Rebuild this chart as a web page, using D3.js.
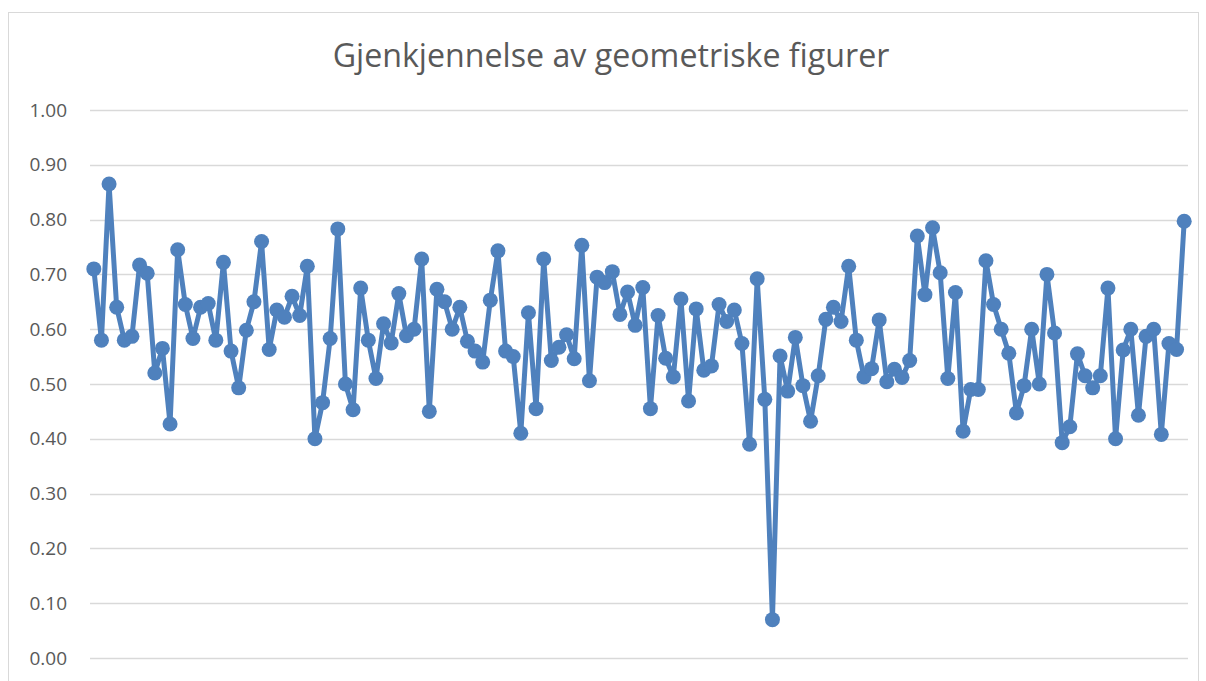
<!DOCTYPE html>
<html>
<head>
<meta charset="utf-8">
<title>Gjenkjennelse av geometriske figurer</title>
<script src="https://cdn.jsdelivr.net/npm/d3@7"></script>
<style>
  body { margin: 0; background: #fff; }
  svg { display: block; }
</style>
</head>
<body>
<div id="chart"></div>
<script>
// data
const title = "Gjenkjennelse av geometriske figurer";
const yTicks = [0, 0.1, 0.2, 0.3, 0.4, 0.5, 0.6, 0.7, 0.8, 0.9, 1.0];
const values = [
  0.710, 0.580, 0.865, 0.640, 0.580, 0.587, 0.717, 0.702, 0.520, 0.565,
  0.427, 0.745, 0.645, 0.583, 0.640, 0.647, 0.580, 0.722, 0.560, 0.493,
  0.598, 0.650, 0.760, 0.563, 0.635, 0.622, 0.660, 0.625, 0.715, 0.400,
  0.466, 0.583, 0.783, 0.500, 0.453, 0.675, 0.580, 0.510, 0.610, 0.575,
  0.665, 0.588, 0.600, 0.728, 0.450, 0.673, 0.650, 0.600, 0.640, 0.578,
  0.560, 0.540, 0.653, 0.743, 0.560, 0.550, 0.410, 0.630, 0.455, 0.728,
  0.543, 0.567, 0.590, 0.546, 0.753, 0.506, 0.695, 0.685, 0.705, 0.627,
  0.668, 0.607, 0.676, 0.455, 0.625, 0.547, 0.513, 0.655, 0.469, 0.637,
  0.525, 0.533, 0.645, 0.614, 0.635, 0.574, 0.390, 0.692, 0.472, 0.070,
  0.551, 0.487, 0.585, 0.497, 0.432, 0.515, 0.618, 0.640, 0.614, 0.715,
  0.580, 0.513, 0.528, 0.617, 0.504, 0.527, 0.512, 0.543, 0.770, 0.663,
  0.785, 0.703, 0.510, 0.667, 0.414, 0.490, 0.490, 0.725, 0.645, 0.600,
  0.556, 0.447, 0.497, 0.600, 0.500, 0.700, 0.593, 0.393, 0.422, 0.555,
  0.515, 0.493, 0.515, 0.675, 0.400, 0.562, 0.600, 0.443, 0.587, 0.600,
  0.408, 0.574, 0.563, 0.797
];
const categories = values.map((d, i) => i + 1);

const width = 1206, height = 681;
const margin = {top: 110, right: 18, bottom: 23, left: 90};
const lineColor = "#4f81bd";
const textColor = "#595959";
const font = "'Open Sans', 'Liberation Sans', sans-serif";

const svg = d3.select("#chart").append("svg")
    .attr("width", width)
    .attr("height", height);

// chart frame
svg.append("rect")
    .attr("x", 8.5).attr("y", 12.5)
    .attr("width", 1190).attr("height", 700)
    .attr("fill", "#fff")
    .attr("stroke", "#d9d9d9")
    .attr("stroke-width", 1);

const x = d3.scaleBand()
    .domain(categories)
    .range([margin.left, width - margin.right]);

const y = d3.scaleLinear()
    .domain([0, 1])
    .range([height - margin.bottom, margin.top]);

// gridlines
svg.append("g")
    .selectAll("line")
    .data(yTicks)
    .join("line")
    .attr("x1", margin.left)
    .attr("x2", width - margin.right)
    .attr("y1", d => Math.round(y(d)) + 0.5)
    .attr("y2", d => Math.round(y(d)) + 0.5)
    .attr("stroke", "#d9d9d9")
    .attr("stroke-width", 1.5);

const yAxis = d3.axisLeft(y)
    .tickValues(yTicks)
    .tickFormat(d3.format(".2f"))
    .tickSize(0)
    .tickPadding(23);

svg.append("g")
    .attr("transform", `translate(${margin.left},0)`)
    .call(yAxis)
    .call(g => g.select(".domain").remove())
    .selectAll("text")
    .attr("fill", textColor)
    .style("font-family", font)
    .style("font-size", "19px");

// title
const t = svg.append("text")
    .attr("x", 611)
    .attr("y", 67)
    .attr("text-anchor", "middle")
    .attr("fill", textColor)
    .style("font-family", font)
    .style("font-size", "28px")
    .text(title);
const tw = t.node().getComputedTextLength();
t.style("font-size", (28 * 557 / tw) + "px");

// series
const cx = d => x(d) + x.bandwidth() / 2;

const line = d3.line()
    .x((d, i) => cx(categories[i]))
    .y(d => y(d));

svg.append("path")
    .datum(values)
    .attr("fill", "none")
    .attr("stroke", lineColor)
    .attr("stroke-width", 5)
    .attr("stroke-linejoin", "round")
    .attr("d", line);

svg.append("g")
    .selectAll("circle")
    .data(values)
    .join("circle")
    .attr("cx", (d, i) => cx(categories[i]))
    .attr("cy", d => y(d))
    .attr("r", 7.5)
    .attr("fill", lineColor);
</script>
</body>
</html>
